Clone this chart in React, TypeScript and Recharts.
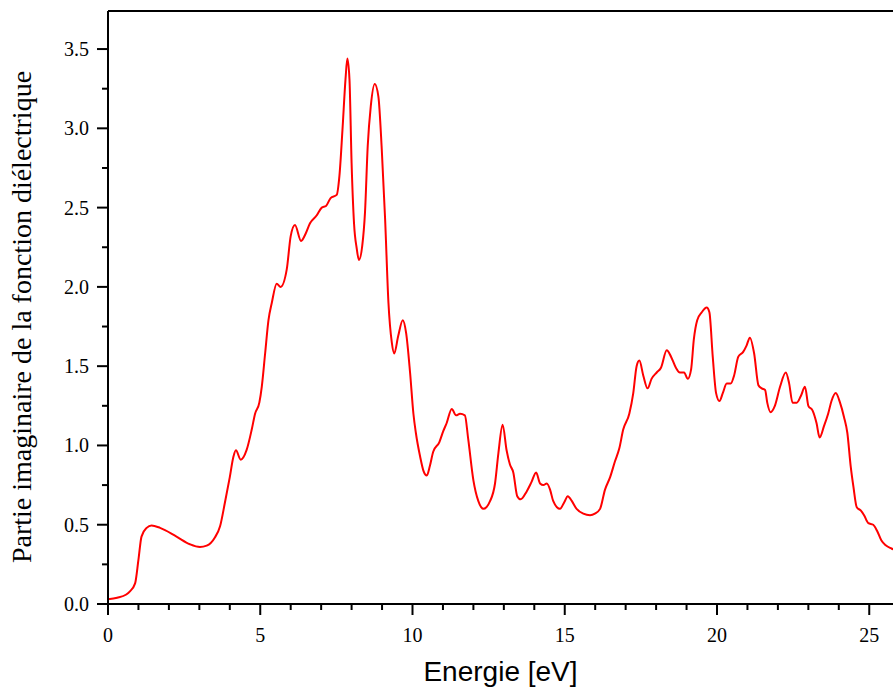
import { LineChart, Line, XAxis, YAxis, ReferenceLine } from 'recharts';

// energie en eV
const energie = [
  0, 0.3, 0.6, 0.72, 0.89, 1.0, 1.1, 1.27, 1.43, 1.71, 2.25, 2.69, 3.02, 3.24, 3.51, 3.68, 3.84, 4.0, 4.12, 4.2,
  4.36, 4.55, 4.72, 4.83, 4.97, 5.05, 5.16, 5.27, 5.38, 5.54, 5.67, 5.87, 6.0, 6.14, 6.34, 6.5, 6.63, 6.85, 7.02, 7.16, 7.31, 7.51, 7.6,
  7.7, 7.8, 7.86, 7.93, 8.0, 8.08, 8.17, 8.24, 8.35, 8.44, 8.53, 8.63, 8.76, 8.88, 8.99, 9.1, 9.21, 9.32, 9.4, 9.53,
  9.68, 9.79, 9.92, 10.03, 10.11, 10.25, 10.36, 10.47, 10.57, 10.68, 10.88, 11.01, 11.12, 11.29, 11.43, 11.56, 11.72, 11.83, 12.0, 12.16,
  12.33, 12.55, 12.71, 12.82, 12.96, 13.09, 13.2, 13.31, 13.44, 13.55, 13.75, 13.91, 14.06, 14.19, 14.3, 14.41, 14.52, 14.62, 14.84, 14.98,
  15.1, 15.23, 15.39, 15.61, 15.83, 15.99, 16.16, 16.32, 16.49, 16.65, 16.79, 16.92, 17.12, 17.25, 17.36, 17.45, 17.58, 17.72, 17.85, 18.02,
  18.16, 18.35, 18.49, 18.65, 18.78, 18.92, 19.04, 19.15, 19.24, 19.35, 19.5, 19.66, 19.75, 19.86, 19.97, 20.08, 20.19, 20.32, 20.45, 20.56,
  20.7, 20.86, 20.97, 21.08, 21.22, 21.36, 21.47, 21.58, 21.65, 21.76, 21.9, 22.07, 22.26, 22.37, 22.48, 22.62, 22.75, 22.89, 23.0, 23.14,
  23.27, 23.37, 23.51, 23.65, 23.76, 23.9, 24.04, 24.17, 24.28, 24.39, 24.48, 24.59, 24.72, 24.83, 24.97, 25.13, 25.26, 25.4, 25.54, 25.73,
  25.85,
];

// partie imaginaire
const epsilon2 = [
  0.03, 0.04, 0.06, 0.08, 0.13, 0.28, 0.425, 0.48, 0.495, 0.48, 0.425, 0.377, 0.36, 0.368, 0.42, 0.49, 0.64, 0.8, 0.93, 0.97,
  0.91, 0.97, 1.1, 1.2, 1.27, 1.37, 1.58, 1.79, 1.9, 2.02, 2.0, 2.11, 2.32, 2.39, 2.29, 2.34, 2.4, 2.45, 2.5, 2.51, 2.56, 2.58, 2.7,
  2.99, 3.31, 3.44, 3.31, 2.78, 2.4, 2.24, 2.17, 2.26, 2.47, 2.89, 3.14, 3.28, 3.2, 2.87, 2.43, 1.9, 1.65, 1.58, 1.69,
  1.79, 1.71, 1.46, 1.2, 1.08, 0.93, 0.84, 0.81, 0.87, 0.96, 1.02, 1.09, 1.14, 1.23, 1.19, 1.2, 1.19, 1.04, 0.78, 0.65,
  0.6, 0.65, 0.76, 0.95, 1.13, 0.97, 0.88, 0.83, 0.68, 0.66, 0.71, 0.77, 0.83, 0.76, 0.75, 0.76, 0.72, 0.65, 0.6, 0.64,
  0.68, 0.65, 0.6, 0.57, 0.56, 0.57, 0.6, 0.72, 0.8, 0.9, 0.98, 1.1, 1.2, 1.33, 1.5, 1.535, 1.44, 1.36, 1.42, 1.46,
  1.49, 1.6, 1.56, 1.49, 1.46, 1.46, 1.42, 1.48, 1.67, 1.79, 1.84, 1.87, 1.84, 1.56, 1.33, 1.28, 1.33, 1.39, 1.39, 1.44,
  1.56, 1.59, 1.63, 1.68, 1.58, 1.38, 1.36, 1.35, 1.27, 1.21, 1.25, 1.37, 1.46, 1.39, 1.27, 1.27, 1.31, 1.37, 1.25, 1.22,
  1.14, 1.05, 1.12, 1.2, 1.28, 1.33, 1.27, 1.18, 1.08, 0.87, 0.74, 0.61, 0.59, 0.56, 0.51, 0.5, 0.46, 0.4, 0.37, 0.35,
  0.34,
];

const xTicks = Array.from({ length: 26 }, (_, i) => i);
const yTicks = [0, 0.25, 0.5, 0.75, 1, 1.25, 1.5, 1.75, 2, 2.25, 2.5, 2.75, 3, 3.25, 3.5];

const data = energie.map((e, i) => ({ e, v: epsilon2[i] }));

const serif = '"Liberation Serif", "DejaVu Serif", serif';

function XTick(props: any) {
  const { x, y, payload } = props;
  const major = payload.value % 5 === 0;
  return (
    <g>
      <line x1={x} x2={x} y1={y} y2={y + (major ? 11 : 6)} stroke="#000" strokeWidth={2} />
      {major && (
        <text x={x} y={y + 38} textAnchor="middle" fontFamily={serif} fontSize={20} fill="#000">
          {payload.value}
        </text>
      )}
    </g>
  );
}

function YTick(props: any) {
  const { x, y, payload } = props;
  const major = Math.abs(payload.value * 2 - Math.round(payload.value * 2)) < 1e-6;
  return (
    <g>
      <line x1={x} x2={x - (major ? 11 : 6)} y1={y} y2={y} stroke="#000" strokeWidth={2} />
      {major && (
        <text x={x - 19} y={y} dy="0.35em" textAnchor="end" fontFamily={serif} fontSize={20} fill="#000">
          {payload.value.toFixed(1)}
        </text>
      )}
    </g>
  );
}

export default function App() {
  return (
    <div style={{ position: 'absolute', left: 0, top: 0, width: 893, height: 691, overflow: 'hidden', background: '#fff' }}>
      <LineChart width={893} height={691} data={data} margin={{ top: 11, right: 0, left: 0, bottom: 0 }}>
        <XAxis
          dataKey="e"
          type="number"
          domain={[0, 25.78]}
          allowDataOverflow
          ticks={xTicks}
          interval={0}
          height={87}
          tickSize={0}
          tickMargin={0}
          tickLine={false}
          axisLine={{ stroke: '#000', strokeWidth: 2 }}
          tick={<XTick />}
          label={{
            value: 'Energie [eV]',
            position: 'insideBottom',
            offset: 10,
            style: { fontFamily: '"Liberation Sans", Arial, sans-serif', fontSize: 28, fill: '#000' },
          }}
        />
        <YAxis
          type="number"
          domain={[0, 3.74]}
          allowDataOverflow
          ticks={yTicks}
          interval={0}
          width={108}
          tickSize={0}
          tickMargin={0}
          tickLine={false}
          axisLine={{ stroke: '#000', strokeWidth: 2 }}
          tick={<YTick />}
          label={{
            content: () => (
              <text
                x={31}
                y={317}
                transform="rotate(-90, 31, 317)"
                textAnchor="middle"
                fontFamily={serif}
                fontSize={28}
                fill="#000"
              >
                Partie imaginaire de la fonction diélectrique
              </text>
            ),
          }}
        />
        <ReferenceLine y={3.74} stroke="#000" strokeWidth={2} ifOverflow="visible" />
        <Line
          type="monotone"
          dataKey="v"
          stroke="#ff0000"
          strokeWidth={2}
          dot={false}
          isAnimationActive={false}
        />
      </LineChart>
    </div>
  );
}
